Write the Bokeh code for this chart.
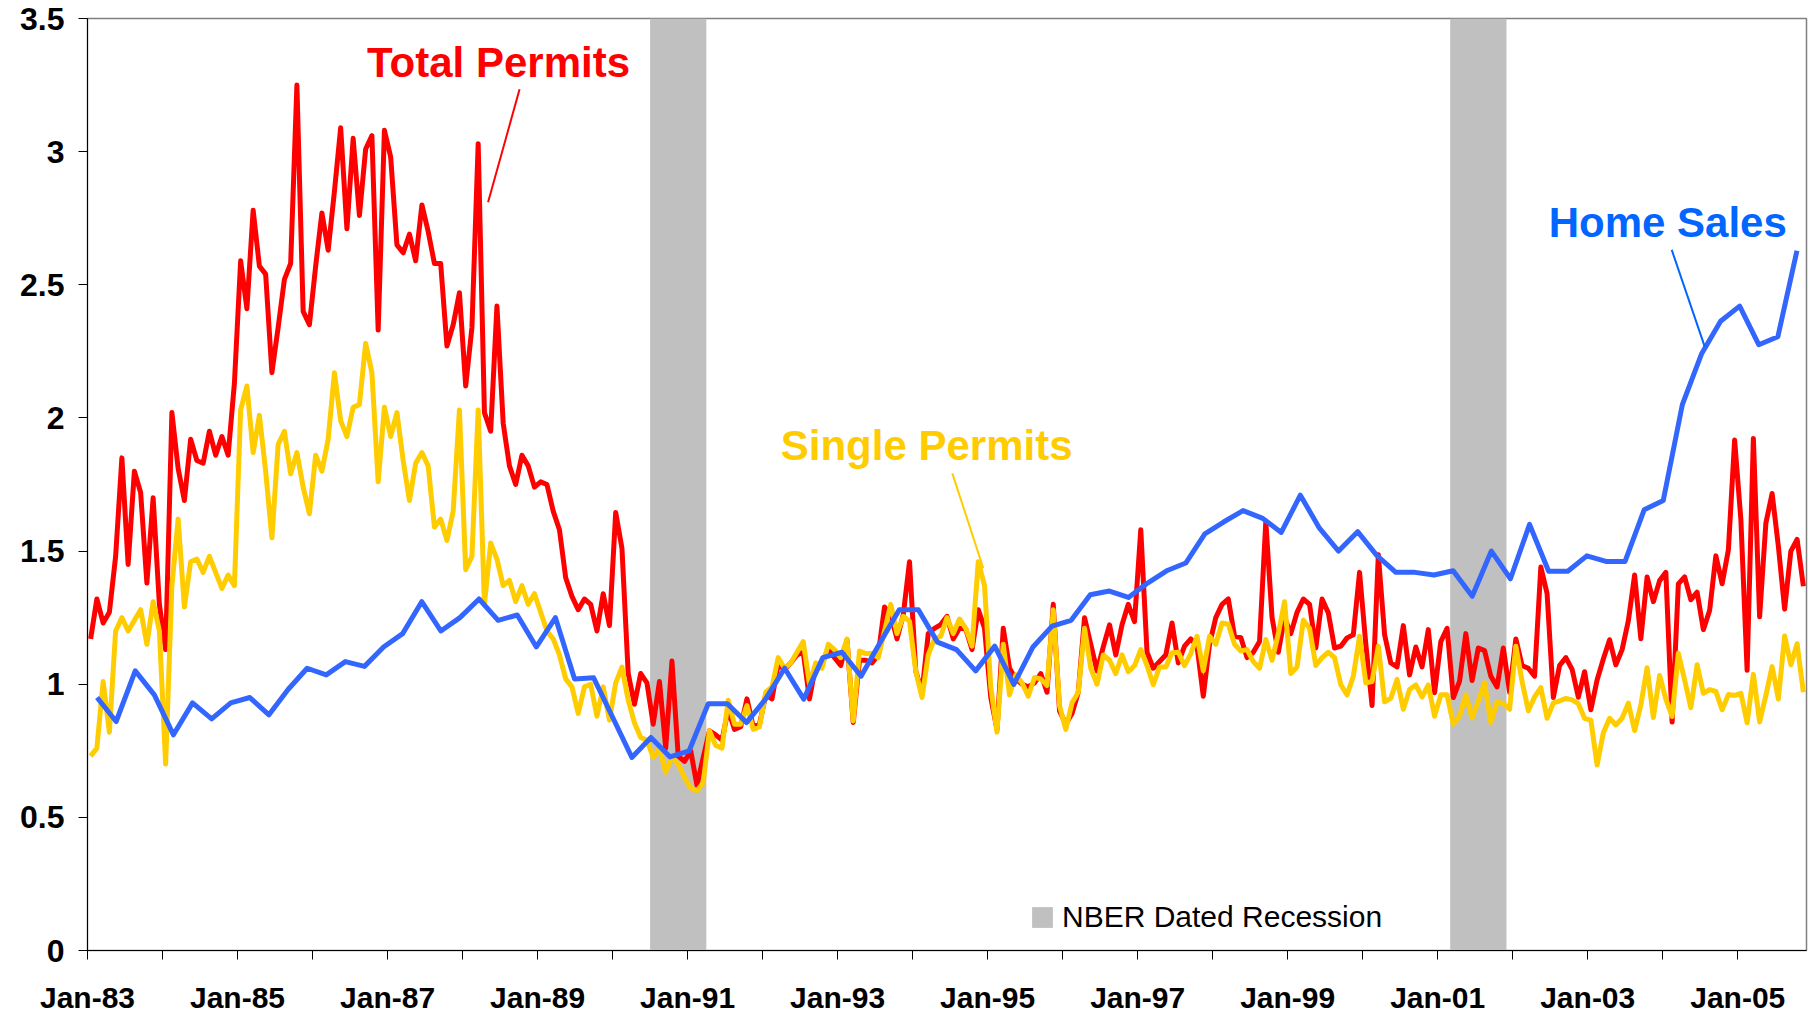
import numpy as np
import pandas as pd
from bokeh.plotting import figure
from bokeh.models import (Range1d, FixedTicker, NumeralTickFormatter, Label,
                          Legend, LegendItem)
from bokeh.embed import file_html
from bokeh.resources import INLINE

# ---------------- data ----------------
first_month = "1983-01"
n_months = 275  # Jan-83 .. Nov-05 (monthly categories)

total_permits = [
    1.17, 1.32, 1.23, 1.27, 1.48, 1.85, 1.45, 1.80, 1.72, 1.38, 1.70, 1.30, 1.13, 2.02, 1.81, 1.69, 1.92, 1.84, 1.83, 1.95,
    1.86, 1.93, 1.86, 2.13, 2.59, 2.41, 2.78, 2.57, 2.54, 2.17, 2.34, 2.52, 2.58, 3.25, 2.40, 2.35, 2.57, 2.77, 2.63,
    2.85, 3.09, 2.71, 3.05, 2.76, 3.01, 3.06, 2.33, 3.08, 2.98, 2.65, 2.62, 2.69, 2.59, 2.80, 2.70, 2.58, 2.58, 2.27, 2.35,
    2.47, 2.12, 2.34, 3.03, 2.02, 1.95, 2.42, 1.98, 1.82, 1.75, 1.86, 1.82, 1.74, 1.76, 1.75, 1.65, 1.58, 1.40, 1.33,
    1.28, 1.32, 1.30, 1.20, 1.34, 1.22, 1.645, 1.51, 1.04, 0.925, 1.04, 1.005, 0.85, 1.01, 0.76, 1.087, 0.73, 0.71, 0.75,
    0.62, 0.725, 0.825, 0.81, 0.79, 0.905, 0.83, 0.84, 0.945, 0.84, 0.85, 0.96, 0.945, 1.075, 1.055, 1.08, 1.11, 1.12, 0.945, 1.07,
    1.08, 1.13, 1.10, 1.07, 1.167, 0.856, 1.09, 1.09, 1.08, 1.11, 1.29, 1.26, 1.17, 1.26, 1.46, 1.05, 0.97, 1.19, 1.21, 1.224,
    1.255, 1.17, 1.21, 1.207, 1.13, 1.28, 1.21, 0.95, 0.83, 1.21, 1.06, 1.02, 1.00, 0.99, 1.005, 1.04, 0.97, 1.30, 0.90, 0.85,
    0.89, 0.97, 1.25, 1.15, 1.05, 1.14, 1.223, 1.11, 1.223, 1.30, 1.235, 1.58, 1.12, 1.06, 1.085, 1.11, 1.23, 1.08, 1.143, 1.17,
    1.143, 0.955, 1.15, 1.25, 1.30, 1.32, 1.18, 1.175, 1.10, 1.12, 1.16, 1.61, 1.25, 1.12, 1.25, 1.19, 1.27, 1.32, 1.30, 1.136,
    1.32, 1.268, 1.136, 1.143, 1.174, 1.186, 1.42, 1.15, 0.92, 1.486, 1.187, 1.08, 1.065, 1.22, 1.035, 1.14, 1.065, 1.205, 0.968, 1.16,
    1.21, 0.95, 1.012, 1.19, 1.014, 1.136, 1.126, 1.03, 0.99, 1.136, 0.97, 1.17, 1.07, 1.06, 1.03, 1.44, 1.34, 0.95, 1.07,
    1.10, 1.056, 0.951, 1.047, 0.904, 1.016, 1.095, 1.167, 1.073, 1.13, 1.238, 1.41, 1.171, 1.403, 1.31, 1.389, 1.42, 0.858, 1.377, 1.403,
    1.317, 1.346, 1.205, 1.277, 1.482, 1.377, 1.504, 1.917, 1.619, 1.052, 1.923, 1.253, 1.605, 1.716, 1.518, 1.282, 1.50, 1.544, 1.368,
]

single_permits = [
    0.73, 0.76, 1.01, 0.82, 1.20, 1.25, 1.20, 1.24, 1.28, 1.15, 1.31, 1.20, 0.70, 1.37, 1.62, 1.29, 1.46, 1.47, 1.42, 1.48,
    1.42, 1.36, 1.41, 1.37, 2.03, 2.12, 1.87, 2.01, 1.80, 1.55, 1.90, 1.95, 1.79, 1.87, 1.74, 1.64, 1.86, 1.80, 1.92,
    2.17, 1.99, 1.93, 2.04, 2.05, 2.28, 2.17, 1.76, 2.04, 1.93, 2.02, 1.84, 1.69, 1.83, 1.87, 1.82, 1.59, 1.62, 1.54, 1.65,
    2.03, 1.43, 1.48, 2.03, 1.30, 1.53, 1.47, 1.37, 1.39, 1.31, 1.37, 1.30, 1.34, 1.27, 1.20, 1.17, 1.11, 1.02, 0.99,
    0.89, 0.99, 1.00, 0.88, 0.99, 0.865, 1.005, 1.064, 0.94, 0.855, 0.80, 0.79, 0.725, 0.76, 0.67, 0.725, 0.70, 0.65, 0.61,
    0.60, 0.63, 0.825, 0.77, 0.76, 0.94, 0.85, 0.85, 0.92, 0.83, 0.84, 0.97, 0.99, 1.10, 1.06, 1.08, 1.12, 1.16, 1.00, 1.08,
    1.06, 1.15, 1.13, 1.10, 1.17, 0.862, 1.125, 1.115, 1.115, 1.10, 1.20, 1.30, 1.19, 1.255, 1.236, 1.05, 0.95, 1.11, 1.17, 1.18,
    1.25, 1.19, 1.245, 1.21, 1.143, 1.46, 1.37, 0.99, 0.82, 1.15, 0.96, 1.035, 1.005, 0.955, 1.025, 1.02, 0.995, 1.28, 0.92, 0.83,
    0.93, 0.97, 1.21, 1.06, 1.00, 1.11, 1.09, 1.04, 1.11, 1.047, 1.07, 1.13, 1.07, 0.998, 1.065, 1.065, 1.118, 1.12, 1.07, 1.115,
    1.18, 1.05, 1.18, 1.15, 1.23, 1.225, 1.15, 1.125, 1.13, 1.085, 1.06, 1.168, 1.09, 1.19, 1.31, 1.04, 1.065, 1.24, 1.21, 1.07,
    1.10, 1.12, 1.10, 0.998, 0.96, 1.03, 1.18, 1.005, 1.01, 1.143, 0.934, 0.947, 1.018, 0.906, 0.98, 0.997, 0.952, 0.997, 0.88, 0.96,
    0.96, 0.85, 0.88, 0.96, 0.874, 0.937, 1.005, 0.856, 0.934, 0.927, 0.906, 1.143, 1.01, 0.90, 0.952, 0.987, 0.872, 0.93, 0.937,
    0.947, 0.941, 0.927, 0.872, 0.865, 0.697, 0.818, 0.872, 0.847, 0.872, 0.929, 0.826, 0.922, 1.062, 0.875, 1.033, 0.944, 0.879, 1.116, 1.016,
    0.912, 1.073, 0.966, 0.98, 0.973, 0.904, 0.961, 0.958, 0.966, 0.855, 1.037, 0.858, 0.958, 1.066, 0.944, 1.181, 1.073, 1.152, 0.97,
]

# quarterly series on its own 90-category axis spanning the same width
home_sales = [
    0.95, 0.86, 1.05, 0.96, 0.81, 0.93, 0.87, 0.93, 0.95, 0.885, 0.98, 1.06, 1.035, 1.085, 1.067, 1.14, 1.19, 1.31, 1.20, 1.25,
    1.32, 1.24, 1.26, 1.14, 1.25, 1.02, 1.024, 0.875, 0.725, 0.80, 0.727, 0.75, 0.927, 0.927, 0.856, 0.944, 1.06, 0.944, 1.10, 1.12,
    1.03, 1.157, 1.28, 1.28, 1.158, 1.13, 1.05, 1.143, 0.999, 1.14, 1.218, 1.24, 1.336, 1.35, 1.326, 1.38, 1.426, 1.455, 1.565, 1.61,
    1.652, 1.624, 1.57, 1.71, 1.586, 1.50, 1.573, 1.484, 1.42, 1.42, 1.41, 1.426, 1.33, 1.50, 1.396, 1.60, 1.424, 1.424, 1.482, 1.461,
    1.461, 1.655, 1.69, 2.05, 2.24, 2.363, 2.42, 2.275, 2.305, 2.628,
]

x_tick_labels = ["Jan-83", "Jan-85", "Jan-87", "Jan-89", "Jan-91", "Jan-93",
                 "Jan-95", "Jan-97", "Jan-99", "Jan-01", "Jan-03", "Jan-05"]
y_ticks = [0, 0.5, 1, 1.5, 2, 2.5, 3, 3.5]

recession_start = ["1990-07", "2001-03"]
recession_end = ["1991-03", "2001-11"]

# ---------------- helpers ----------------
p0 = pd.Period(first_month, freq="M")


def month_index(s):
    return (pd.Period(s, freq="M") - p0).n


rec_left = [month_index(s) for s in recession_start]
rec_right = [month_index(s) + 1 for s in recession_end]

x_month = np.arange(len(total_permits)) + 0.5
x_quarter = (np.arange(len(home_sales)) + 0.5) * n_months / len(home_sales)

FONT = "Liberation Sans"
RED = "#FF0000"
YELLOW = "#FFCC00"
BLUE = "#3366FF"
BLUE_TXT = "#0066FF"
LW = 5

p = figure(width=1819, height=1020, output_backend="svg", toolbar_location=None,
           x_range=Range1d(0, n_months), y_range=Range1d(0, 3.5),
           min_border_left=87, min_border_right=13, min_border_top=18, min_border_bottom=70)
p.background_fill_color = "white"
p.border_fill_color = "white"
p.outline_line_color = "#808080"
p.outline_line_width = 1.5
p.xgrid.visible = False
p.ygrid.visible = False

rec = p.quad(left=rec_left, right=rec_right, bottom=0, top=3.5,
             fill_color="#C0C0C0", line_color=None)

p.line(x_month, total_permits, line_color=RED, line_width=LW, line_join="round")
p.line(x_month, single_permits, line_color=YELLOW, line_width=LW, line_join="round")
p.line(x_quarter, home_sales, line_color=BLUE, line_width=LW, line_join="round")

# axes
xt = list(range(0, n_months + 1, 12))
p.xaxis.ticker = FixedTicker(ticks=xt)
overrides = {}
for k, t in enumerate(xt):
    overrides[t] = x_tick_labels[k // 2] if k % 2 == 0 else ""
p.xaxis.major_label_overrides = overrides
p.xaxis.minor_tick_line_color = None
p.xaxis.major_tick_out = 9
p.xaxis.major_tick_in = 0
p.xaxis.major_label_standoff = 21
p.xaxis.axis_line_color = "black"
p.xaxis.major_tick_line_color = "black"
p.xaxis.major_label_text_font_size = "30px"

p.yaxis.ticker = FixedTicker(ticks=y_ticks)
p.yaxis.formatter = NumeralTickFormatter(format="0.[0]")
p.yaxis.minor_tick_line_color = None
p.yaxis.major_tick_out = 9
p.yaxis.major_tick_in = 0
p.yaxis.major_label_standoff = 14
p.yaxis.axis_line_color = "black"
p.yaxis.major_tick_line_color = "black"
p.yaxis.major_label_text_font_size = "32px"

for ax in (p.xaxis, p.yaxis):
    ax.major_label_text_font = FONT
    ax.major_label_text_font_style = "bold"
    ax.major_label_text_color = "black"

# series labels with leader lines
labels = [
    ("Total Permits", 65.76, 3.335, RED, (69.12, 3.234), (64.08, 2.810)),
    ("Single Permits", 134.24, 1.896, YELLOW, (138.35, 1.792), (143.3, 1.436)),
    ("Home Sales", 252.8, 2.735, BLUE_TXT, (253.44, 2.631), (258.72, 2.268)),
]
for text, lx, ly, col, a, b in labels:
    p.add_layout(Label(x=lx, y=ly, text=text, text_align="center", text_baseline="middle",
                       text_font=FONT, text_font_style="bold", text_font_size="42px",
                       text_color=col))
    p.line([a[0], b[0]], [a[1], b[1]], line_color=col, line_width=2)

legend = Legend(items=[LegendItem(label="NBER Dated Recession", renderers=[rec])],
                location=(942, 16), border_line_alpha=0, background_fill_alpha=0,
                padding=0, margin=0, glyph_width=26, glyph_height=26, label_standoff=7,
                label_text_font=FONT, label_text_font_size="30px", label_text_color="black",
                spacing=0)
p.add_layout(legend)

open("out.html", "w").write(file_html(p, INLINE))
